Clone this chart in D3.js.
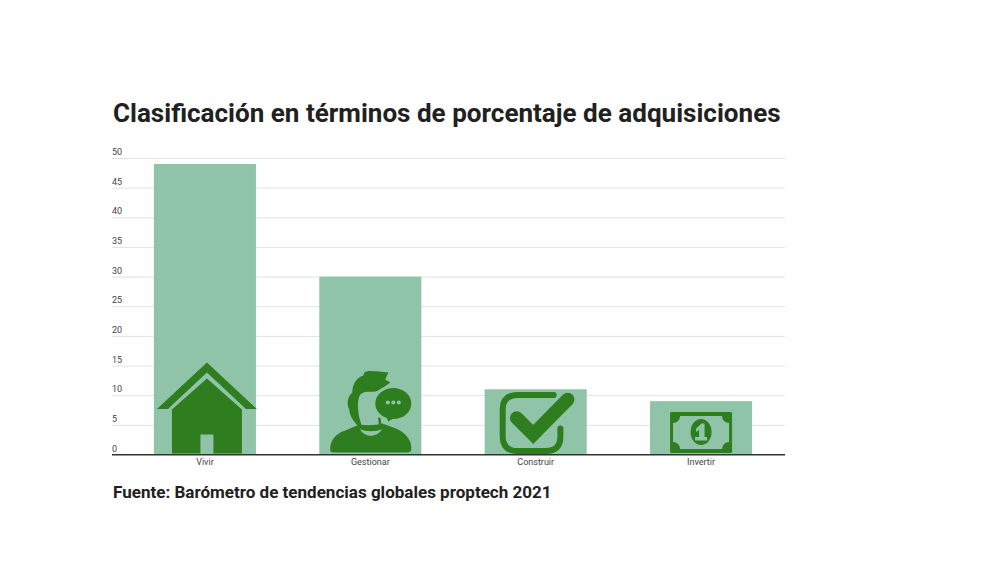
<!DOCTYPE html>
<html lang="es">
<head>
<meta charset="utf-8" />
<title>Clasificación en términos de porcentaje de adquisiciones</title>
<script src="https://d3js.org/d3.v7.min.js"></script>
<style>
    html, body { margin: 0; background: #fff; }
    svg { display: block; font-family: Roboto, sans-serif; }
</style>
</head>
<body>
<div id="chart"></div>
<script>
const categories = ['Vivir', 'Gestionar', 'Construir', 'Invertir'];
const values = [49, 30, 11, 9];
const yTicks = [0, 5, 10, 15, 20, 25, 30, 35, 40, 45, 50];
const titleText = 'Clasificación en términos de porcentaje de adquisiciones';
const sourceText = 'Fuente: Barómetro de tendencias globales proptech 2021';

const width = 1000;
const height = 562;
const barColor = '#90c4a8';
const iconColor = '#2e7d1e';

const svg = d3.select('#chart').append('svg')
    .attr('width', width)
    .attr('height', height);

const scaleX = d3.scaleBand()
    .domain(categories)
    .range([122.5, 783.5])
    .paddingInner(0.383)
    .paddingOuter(0.19);

const scaleY = d3.scaleLinear()
    .domain([0, 50])
    .range([454.5, 158]);

// title and source
svg.append('text')
    .attr('x', 113)
    .attr('y', 121.5)
    .attr('font-size', 26.05)
    .attr('font-weight', 700)
    .attr('fill', '#212121')
    .text(titleText);

svg.append('text')
    .attr('x', 113)
    .attr('y', 498)
    .attr('font-size', 17.05)
    .attr('font-weight', 700)
    .attr('fill', '#212121')
    .text(sourceText);

// grid lines and y labels
const yAxis = d3.axisLeft(scaleY)
    .tickValues(yTicks)
    .tickSize(-673)
    .tickFormat(d => d);

const yGroup = svg.append('g')
    .attr('transform', 'translate(112, 0)')
    .call(yAxis);

yGroup.select('.domain').remove();
yGroup.selectAll('.tick line')
    .attr('stroke', d => d === 0 ? '#333' : '#dfe3e3')
    .attr('stroke-width', d => d === 0 ? 1.2 : 1);
yGroup.selectAll('.tick text')
    .attr('x', 0)
    .attr('y', -3.5)
    .attr('dy', 0)
    .attr('text-anchor', 'start')
    .attr('fill', '#444')
    .style('font-family', 'Roboto, sans-serif')
    .style('font-size', '9px');

// bars
svg.append('g')
    .selectAll('rect')
    .data(categories)
    .enter()
    .append('rect')
    .attr('x', d => scaleX(d))
    .attr('y', (d, i) => scaleY(values[i]))
    .attr('width', scaleX.bandwidth())
    .attr('height', (d, i) => scaleY(0) - scaleY(values[i]))
    .attr('fill', barColor);

// baseline again so it sits on top of the bars
svg.append('line')
    .attr('x1', 112)
    .attr('x2', 785)
    .attr('y1', scaleY(0))
    .attr('y2', scaleY(0))
    .attr('stroke', '#333')
    .attr('stroke-width', 1.2);

// x labels
const xAxis = d3.axisBottom(scaleX).tickSize(0).tickPadding(4);
const xGroup = svg.append('g')
    .attr('transform', `translate(0, ${scaleY(0)})`)
    .call(xAxis);
xGroup.select('.domain').remove();
xGroup.selectAll('.tick text')
    .attr('fill', '#444')
    .style('font-family', 'Roboto, sans-serif')
    .style('font-size', '9px');

// icons: drawn around the middle of each bar's foot
const icon = d => svg.append('g')
    .attr('transform', `translate(${scaleX(d) + scaleX.bandwidth() / 2}, ${scaleY(0)})`);

const house = icon('Vivir');
house.append('path')
    .attr('fill', iconColor)
    .attr('d', 'M2,-92 L52,-45.5 L41,-45.5 L2,-82 L-37,-45.5 L-48,-45.5 Z');
house.append('path')
    .attr('fill', iconColor)
    .attr('d', 'M2,-76 L37,-45 L37,-1 L8.5,-1 L8.5,-20 L-4.5,-20 L-4.5,-1 L-33,-1 L-33,-45 Z');

const person = icon('Gestionar');
// shoulders
person.append('path')
    .attr('fill', iconColor)
    .attr('d', 'M-40,-4 C-41,-13 -35,-21 -25,-24 L-11,-30 C-6,-29 6,-29 12,-31 L23,-27 C35,-23 42,-14 41,-5 C41,-3 39,-2 37,-2 L-37,-2 C-39,-2 -40,-3 -40,-4 Z');
// collar
person.append('path')
    .attr('fill', barColor)
    .attr('d', 'M-10.5,-25.5 C-6,-17 6,-16 12,-25.5 C6,-22.5 -5,-22.5 -10.5,-25.5 Z');
// hair and side of the head, ear bump on the left
person.append('path')
    .attr('fill', iconColor)
    .attr('d', 'M18,-82 C8,-83 -2,-85 -6,-82 L-7,-79 C-14,-77 -18,-70 -18,-62 C-23,-58 -24,-50 -21,-45 C-21,-38 -15,-30 -8,-25 C-9,-32 -12,-38 -12,-44 C-13,-50 -12,-57 -10,-60 C-6,-64 0,-62 5,-63 C12,-65 15,-69 20,-72 L15,-75 Z');
// right jaw line
person.append('path')
    .attr('fill', 'none')
    .attr('stroke', iconColor)
    .attr('stroke-width', 2.5)
    .attr('d', 'M9,-37 L10,-28');
// speech bubble with a light halo
person.append('ellipse')
    .attr('cx', 23).attr('cy', -51).attr('rx', 21).attr('ry', 18.5)
    .attr('fill', barColor);
person.append('ellipse')
    .attr('cx', 23).attr('cy', -51).attr('rx', 18).attr('ry', 15.5)
    .attr('fill', iconColor);
person.append('path')
    .attr('fill', iconColor)
    .attr('d', 'M15,-40 L18,-33 L28,-39 Z');
person.selectAll('circle')
    .data([-5.5, 0, 5.5])
    .enter()
    .append('circle')
    .attr('cx', d => 23 + d)
    .attr('cy', -52)
    .attr('r', 2)
    .attr('fill', barColor);

const check = icon('Construir');
check.append('path')
    .attr('fill', 'none')
    .attr('stroke', iconColor)
    .attr('stroke-width', 6)
    .attr('stroke-linecap', 'round')
    .attr('d', 'M18,-59.5 L-18,-59.5 Q-33,-59.5 -33,-45 L-33,-18 Q-33,-3.5 -18,-3.5 L10,-3.5 Q24.7,-3.5 24.7,-18 L24.7,-26');
check.append('path')
    .attr('fill', 'none')
    .attr('stroke', iconColor)
    .attr('stroke-width', 13.5)
    .attr('stroke-linejoin', 'miter')
    .attr('stroke-linecap', 'round')
    .attr('d', 'M-19,-36.5 L-2.5,-20 L32,-55');

const money = icon('Invertir');
money.append('rect')
    .attr('x', -31).attr('y', -42.5).attr('width', 62).attr('height', 41)
    .attr('rx', 1.5)
    .attr('fill', iconColor);
money.append('path')
    .attr('fill', barColor)
    .attr('d', 'M-21,-38.5 L21,-38.5 A7,7 0 0 0 28,-31.5 L28,-12.5 A7,7 0 0 0 21,-5.5 L-21,-5.5 A7,7 0 0 0 -28,-12.5 L-28,-31.5 A7,7 0 0 0 -21,-38.5 Z');
money.append('ellipse')
    .attr('cx', 0).attr('cy', -22.5).attr('rx', 10.5).attr('ry', 13)
    .attr('fill', iconColor);
money.append('path')
    .attr('fill', barColor)
    .attr('d', 'M-5,-26 L0.5,-31 L3.5,-31 L3.5,-17.5 L6,-17.5 L6,-14 L-6,-14 L-6,-17.5 L-2,-17.5 L-2,-24.5 L-5,-22.5 Z');
</script>
</body>
</html>
